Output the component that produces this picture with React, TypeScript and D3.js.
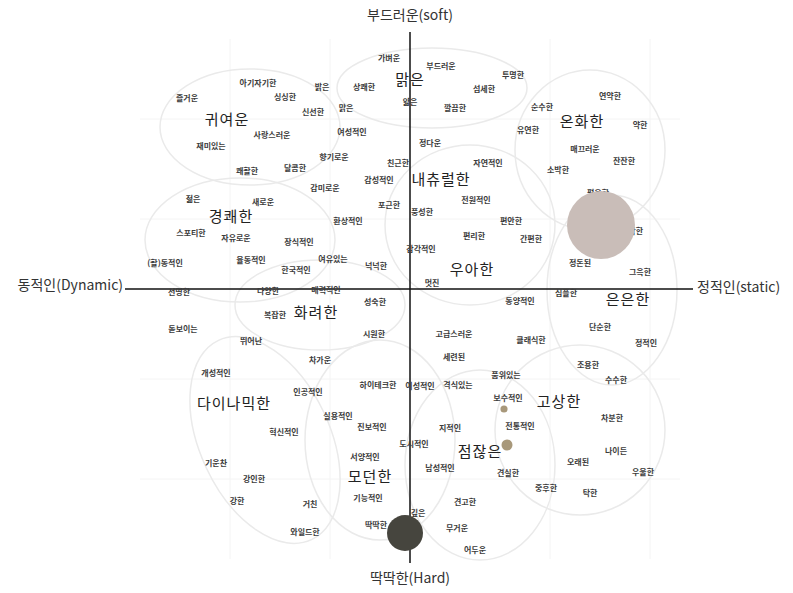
import React from "react";
import * as d3 from "d3";

// perceptual map: x = dynamic(-) .. static(+), y = hard(-) .. soft(+)
const words: [string, number, number][] = [
  ["가벼운", -2.1, 23.1], ["부드러운", 3.1, 22.3], ["투명한", 10.3, 21.4],
  ["상쾌한", -4.6, 20.2], ["밝은", -8.8, 20.2], ["맑은", -6.4, 18.1],
  ["얇은", 0, 18.7], ["깔끔한", 4.5, 18.1], ["섬세한", 7.4, 20.0],
  ["싱싱한", -12.5, 19.2], ["아기자기한", -15.2, 20.6], ["즐거운", -22.3, 19.1],
  ["신선한", -9.7, 17.7], ["사랑스러운", -13.8, 15.4], ["재미있는", -19.9, 14.3],
  ["여성적인", -5.8, 15.7], ["순수한", 13.2, 18.2], ["연약한", 20.0, 19.3],
  ["유연한", 11.8, 15.9], ["약한", 23.0, 16.4], ["매끄러운", 17.5, 14.0],
  ["잔잔한", 21.4, 12.8], ["소박한", 14.8, 11.9], ["정다운", 2.0, 14.6],
  ["친근한", -1.2, 12.6], ["자연적인", 7.8, 12.6], ["향기로운", -7.6, 13.2],
  ["달콤한", -11.5, 12.1], ["쾌활한", -16.3, 11.8], ["감성적인", -3.1, 10.9],
  ["감미로운", -8.5, 10.1], ["젊은", -21.7, 9.0], ["새로운", -14.7, 8.7],
  ["포근한", -2.1, 8.4], ["풍성한", 1.2, 7.7], ["전원적인", 6.6, 8.9],
  ["환상적인", -6.2, 6.8], ["스포티한", -21.9, 5.6], ["자유로운", -17.4, 5.1],
  ["장식적인", -11.1, 4.7], ["편안한", 10.1, 6.8], ["편리한", 6.4, 5.3],
  ["간편한", 12.1, 5.0], ["평온한", 18.8, 9.6], ["안락한", 22.2, 5.8],
  ["감각적인", 1.1, 4.0], ["(활)동적인", -24.5, 2.6], ["율동적인", -15.9, 2.9],
  ["여유있는", -7.7, 3.0], ["한국적인", -11.4, 1.9], ["넉넉한", -3.4, 2.3],
  ["멋진", 2.2, 0.6], ["정돈된", 17.0, 2.6], ["그윽한", 23.0, 1.7],
  ["선명한", -23.1, -0.3], ["다양한", -14.2, -0.2], ["매력적인", -8.4, -0.1],
  ["성숙한", -3.5, -1.3], ["동양적인", 11.0, -1.2], ["심플한", 15.6, -0.4],
  ["복잡한", -13.5, -2.6], ["돋보이는", -22.7, -4.0], ["시원한", -3.6, -4.5],
  ["고급스러운", 4.4, -4.5], ["클래식한", 12.1, -5.1], ["단순한", 19.0, -3.8],
  ["정적인", 23.6, -5.4], ["뛰어난", -15.9, -5.2], ["개성적인", -19.4, -8.4],
  ["세련된", 4.4, -6.8], ["차가운", -9.0, -7.1], ["조용한", 17.8, -7.6],
  ["품위있는", 9.6, -8.6], ["수수한", 20.6, -9.1], ["인공적인", -10.2, -10.3],
  ["하이테크한", -3.2, -9.6], ["이성적인", 1.0, -9.7], ["격식있는", 4.8, -9.6],
  ["보수적인", 9.8, -10.9], ["차분한", 20.2, -12.9], ["전통적인", 11.0, -13.7],
  ["지적인", 4.0, -13.9], ["혁신적인", -12.6, -14.3], ["진보적인", -3.8, -13.8],
  ["실용적인", -7.2, -12.7], ["도시적인", 0.4, -15.5], ["나이든", 20.6, -16.2],
  ["서양적인", -4.5, -16.8], ["오래된", 16.8, -17.3], ["남성적인", 3.0, -17.9],
  ["견실한", 9.8, -18.4], ["우울한", 23.3, -18.3], ["기운찬", -19.4, -17.4],
  ["강인한", -15.6, -19.0], ["강한", -17.3, -21.2], ["거친", -10.0, -21.5],
  ["중후한", 13.6, -19.9], ["탁한", 18.0, -20.4], ["기능적인", -4.2, -20.9],
  ["견고한", 5.5, -21.3], ["와일드한", -10.5, -24.3], ["딱딱한", -3.4, -23.6],
  ["깊은", 0.8, -22.4], ["무거운", 4.7, -23.9], ["어두운", 6.5, -26.1],
];

const groups: [string, number, number][] = [
  ["맑은", 0, 20.9], ["귀여운", -18.3, 16.9], ["온화한", 17.2, 16.7],
  ["내츄럴한", 3.1, 10.9], ["경쾌한", -17.9, 7.2], ["우아한", 6.2, 1.9],
  ["은은한", 21.8, -1.1], ["화려한", -9.4, -2.4], ["다이나믹한", -17.6, -11.5],
  ["고상한", 14.9, -11.3], ["점잖은", 7.0, -16.3], ["모던한", -4.0, -18.8],
];

// cluster outlines: cx, cy, rx, ry, rotation
const clusters: [number, number, number, number, number][] = [
  [-16, 16.2, 9.0, 5.8, 0], [2.2, 20.1, 9.5, 4.0, 0], [18, 13.9, 7.5, 8.0, 0],
  [-17, 4.9, 9.5, 6.2, 0], [6, 6.4, 8.5, 8.0, 0], [20.2, -0.1, 6.5, 9.5, 0],
  [-9, -1.6, 8.5, 4.5, 0], [-14.5, -15.1, 6.5, 11.0, -25], [-3, -15.1, 7.5, 10.0, 0],
  [17, -14.1, 8.5, 8.5, 0], [7, -17.6, 7.5, 9.5, 0],
];

// samples: x, y, size
const bubbles: [number, number, number, string][] = [
  [19.1, 6.4, 100, "#c9bdb8"], [-0.5, -24.4, 28, "#46453e"],
  [9.4, -12.0, 1.1, "#a8987a"], [9.7, -15.6, 2.6, "#a8987a"],
];

const gridX = [-18, -8, 14, 24];
const gridY = [17, 7, -9, -19];

const W = 793;
const H = 593;

export default function App() {
  const x = d3.scaleLinear().domain([-28.5, 28.5]).range([125, 695]);
  const y = d3.scaleLinear().domain([-27.4, 25.7]).range([563, 32]);
  const r = d3.scaleSqrt().domain([0, 100]).range([0, 34]);
  const kr = "'Noto Sans CJK KR', 'Noto Sans', sans-serif";

  return (
    <div style={{ position: "fixed", left: 0, top: 0, width: W, height: H, background: "#fff" }}>
      <svg width={W} height={H} style={{ display: "block" }}>
        {/* faint grid */}
        {gridX.map((g) => (
          <line key={"gx" + g} x1={x(g)} x2={x(g)} y1={y(25)} y2={y(-27)} stroke="#f4f4f4" />
        ))}
        {gridY.map((g) => (
          <line key={"gy" + g} x1={x(-27)} x2={x(27)} y1={y(g)} y2={y(g)} stroke="#f4f4f4" />
        ))}

        {/* clusters */}
        {clusters.map((c, i) => (
          <ellipse
            key={i}
            cx={x(c[0])}
            cy={y(c[1])}
            rx={x(c[2]) - x(0)}
            ry={y(0) - y(c[3])}
            transform={`rotate(${c[4]},${x(c[0])},${y(c[1])})`}
            fill="none"
            stroke="#eaeaea"
            strokeWidth={1.5}
          />
        ))}

        {/* axes */}
        <line x1={x(0)} x2={x(0)} y1={y(25.7)} y2={y(-27.4)} stroke="#111" strokeWidth={1.5} />
        <line x1={x(-28.5)} x2={x(28.3)} y1={y(0)} y2={y(0)} stroke="#111" strokeWidth={1.5} />

        <g fontFamily={kr} fill="#333" fontSize={14}>
          <text x={x(0)} y={20} textAnchor="middle">부드러운(soft)</text>
          <text x={x(0)} y={583} textAnchor="middle">딱딱한(Hard)</text>
          <text x={x(-28.7)} y={y(0) + 1} textAnchor="end">동적인(Dynamic)</text>
          <text x={x(28.7)} y={y(0) + 3}>정적인(static)</text>
        </g>

        {/* words */}
        <g fontFamily={kr} fontSize={8} fontWeight={700} fill="#3c3c3c" textAnchor="middle">
          {words.map(([t, a, b]) => (
            <text key={t + a} x={x(a)} y={y(b)} dy="0.35em">{t}</text>
          ))}
        </g>

        <g fontFamily={kr} fontSize={15} fill="#222" textAnchor="middle" letterSpacing={1}>
          {groups.map(([t, a, b]) => (
            <text key={"g" + t} x={x(a)} y={y(b)} dy="0.35em">{t}</text>
          ))}
        </g>

        {/* bubbles */}
        {bubbles.map((b, i) => (
          <circle key={i} cx={x(b[0])} cy={y(b[1])} r={r(b[2])} fill={b[3]} />
        ))}
      </svg>
    </div>
  );
}
